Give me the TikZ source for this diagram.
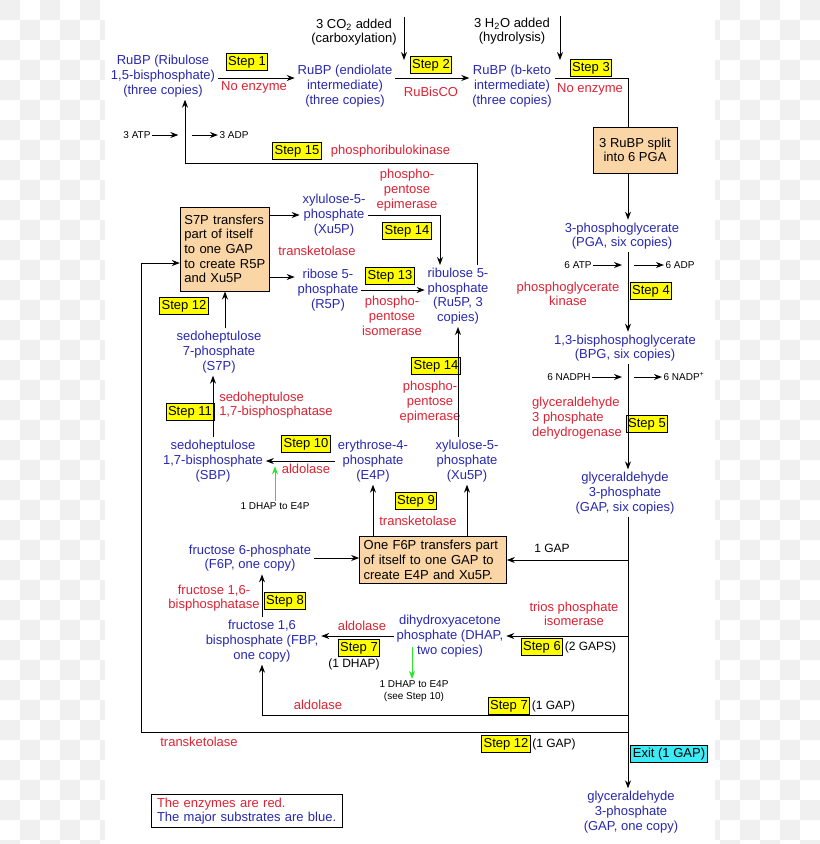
\documentclass[tikz,border=0pt]{standalone}
\usepackage{fontspec}
\setmainfont{Liberation Sans}
\usetikzlibrary{positioning,arrows.meta,calc}
\definecolor{cBlue}{RGB}{40,40,175}
\definecolor{cRed}{RGB}{221,34,51}
\definecolor{cStep}{RGB}{255,255,0}
\definecolor{cProc}{RGB}{250,213,165}
\definecolor{cExit}{RGB}{60,235,245}
\definecolor{cGreen}{RGB}{40,230,40}
\definecolor{cSq}{RGB}{240,240,240}
\newcommand{\mainsize}{\fontsize{9.75}{11}\selectfont}
\newcommand{\cofsize}{\fontsize{7.5}{9}\selectfont}
\tikzset{
  sub/.style={text=cBlue, align=center, font=\mainsize, inner sep=2pt},
  enz/.style={text=cRed, align=center, font=\mainsize, inner sep=2pt},
  lbl/.style={align=center, font=\mainsize, inner sep=1pt},
  cnt/.style={font=\fontsize{9}{11}\selectfont, inner sep=1pt},
  cofac/.style={align=center, font=\cofsize, inner sep=1pt},
  stepbox/.style={draw, fill=cStep, line width=0.6pt, font=\mainsize,
                  inner xsep=1.5pt, inner ysep=1.5pt, text height=7.2pt, text depth=2pt},
  proc/.style={draw, line width=0.75pt, fill=cProc, font=\mainsize, inner sep=3pt},
  exitbox/.style={draw, line width=0.75pt, fill=cExit, font=\mainsize,
                  inner xsep=1.5pt, inner ysep=1.5pt},
  legend/.style={draw, line width=0.75pt, align=left, font=\mainsize,
                 text width=135pt, inner xsep=4pt, inner ysep=2pt},
  flow/.style={-{Stealth[length=6pt,width=4.5pt]}, line width=0.75pt},
  gflow/.style={flow, draw=cGreen},
  wire/.style={line width=0.75pt},
}

\begin{document}
\begin{tikzpicture}[x=0.75pt,y=-0.75pt]
  \useasboundingbox (0,0) rectangle (820,844);
  \clip (0,0) rectangle (820,844);
  % backdrop
  \foreach \x in {0,40,...,800}
    \foreach \y in {0,40,...,840} {
      \fill[cSq] (\x,\y) rectangle ++(20,20);
      \fill[cSq] (\x+20,\y+20) rectangle ++(20,20);
    }
  \fill[white] (105,0) rectangle (715,844);

  % guide points
  \coordinate (mx) at (628,0);
  \coordinate (row1) at (0,78);
  \coordinate (kx) at (185,0);
  \coordinate (k2) at (404,60);
  \coordinate (k3) at (560,60);
  \coordinate (k14) at (440,0);
  \coordinate (k15) at (477,163);
  \coordinate (yr) at (0,277);
  \coordinate (j7) at (628,715);
  \coordinate (j12) at (628,732);
  \coordinate (k12) at (141,263);
  \coordinate (g2) at (412,647);

  % carbon fixation
  \node[sub] (rubp)   at (163,76) {RuBP (Ribulose\\1,5-bisphosphate)\\(three copies)};
  \node[sub] (endiol) at (345,86) {RuBP (endiolate\\intermediate)\\(three copies)};
  \node[sub] (bketo)  at (512,86) {RuBP (b-keto\\intermediate)\\(three copies)};
  \node[lbl] (co2) at (354,32) {3 CO\textsubscript{2} added\\(carboxylation)};
  \node[lbl] (h2o) at (512,31) {3 H\textsubscript{2}O added\\(hydrolysis)};
  \node[stepbox] (s1) at (247,62) {Step 1};
  \node[enz] (e1) at (254,87) {No enzyme};
  \node[stepbox] (s2) at (431,65) {Step 2};
  \node[enz] (e2) at (431,92) {RuBisCO};
  \node[stepbox] (s3) at (591,68) {Step 3};
  \node[enz] (e3) at (590,89) {No enzyme};
  \node[proc, align=center, minimum width=63pt, minimum height=34.5pt] (split)
        at (635,150) {3 RuBP split\\into 6 PGA};

  % reduction
  \node[sub] (pga) at (622,236) {3-phosphoglycerate\\(PGA, six copies)};
  \node[cofac] (atp6) at (578,265) {6 ATP};
  \node[cofac] (adp6) at (680,265) {6 ADP};
  \node[enz] (e4) at (568,294) {phosphoglycerate\\kinase};
  \node[stepbox] (s4) at (651,291) {Step 4};
  \node[sub] (bpg) at (625,348) {1,3-bisphosphoglycerate\\(BPG, six copies)};
  \node[cofac] (nadph) at (569,377) {6 NADPH};
  \node[cofac] (nadp) at (684,377) {6 NADP\textsuperscript{+}};
  \node[enz, align=left] (e5) at (577,418) {glyceraldehyde\\3 phosphate\\dehydrogenase};
  \node[stepbox] (s5) at (647,424) {Step 5};
  \node[sub] (gap) at (625,493) {glyceraldehyde\\3-phosphate\\(GAP, six copies)};
  \node[cnt] (gap1) at (552,548) {1 GAP};
  \node[enz] (e6) at (574,614) {trios phosphate\\isomerase};
  \node[stepbox] (s6) at (542,647) {Step 6};
  \node[cnt, right=0pt of s6] (n6) {(2 GAPS)};
  \node[stepbox] (s7b) at (509,706) {Step 7};
  \node[cnt, right=0pt of s7b] (n7b) {(1 GAP)};
  \node[stepbox] (s12b) at (506,744) {Step 12};
  \node[cnt, right=0pt of s12b] (n12b) {(1 GAP)};
  \node[exitbox] (exit) at (669,754) {Exit (1 GAP)};
  \node[sub] (gapout) at (631,812) {glyceraldehyde\\3-phosphate\\(GAP, one copy)};

  % regeneration
  \node[stepbox] (s15) at (297,151) {Step 15};
  \node[enz, anchor=west] (e15) at (328,151) {phosphoribulokinase};
  \node[cofac] (atp3) at (137,135) {3 ATP};
  \node[cofac] (adp3) at (234,135) {3 ADP};
  \node[proc, align=left, text width=61pt, minimum height=63pt] (s7pbox)
        at (225,249) {S7P transfers\\part of itself\\to one GAP\\to create R5P\\and Xu5P};
  \node[sub] (xu5pa) at (334,215) {xylulose-5-\\phosphate\\(Xu5P)};
  \node[enz] (etk) at (317,251) {transketolase};
  \node[sub] (r5p) at (328,290) {ribose 5-\\phosphate\\(R5P)};
  \node[enz] (e14a) at (407,190) {phospho-\\pentose\\epimerase};
  \node[stepbox] (s14a) at (407,231) {Step 14};
  \node[stepbox] (s13) at (390,276) {Step 13};
  \node[enz] (e13) at (392,316) {phospho-\\pentose\\isomerase};
  \node[sub] (ru5p) at (458,296) {ribulose 5-\\phosphate\\(Ru5P, 3\\copies)};
  \node[stepbox] (s12a) at (184,306) {Step 12};
  \node[sub] (s7p) at (219,352) {sedoheptulose\\7-phosphate\\(S7P)};
  \node[stepbox] (s11) at (190,412) {Step 11};
  \node[enz, align=left] (e11) at (276,405) {sedoheptulose\\1,7-bisphosphatase};
  \node[sub] (sbp) at (213,461) {sedoheptulose\\1,7-bisphosphate\\(SBP)};
  \node[stepbox] (s10) at (306,444) {Step 10};
  \node[enz] (e10) at (306,469) {aldolase};
  \node[cofac] (dhapa) at (275,506) {1 DHAP to E4P};
  \node[sub] (e4p) at (373,461) {erythrose-4-\\phosphate\\(E4P)};
  \node[sub] (xu5pb) at (467,461) {xylulose-5-\\phosphate\\(Xu5P)};
  \node[stepbox] (s14b) at (436,366) {Step 14};
  \node[enz] (e14b) at (430,402) {phospho-\\pentose\\epimerase};
  \node[stepbox] (s9) at (416,501) {Step 9};
  \node[enz] (e9) at (418,521) {transketolase};
  \node[proc, align=left, text width=104pt] (f6pbox) at (433,560)
        {One F6P transfers part\\of itself to one GAP to\\create E4P and Xu5P.};
  \node[sub] (f6p) at (250,558) {fructose 6-phosphate\\(F6P, one copy)};
  \node[enz] (e8) at (214,598) {fructose 1,6-\\bisphosphatase};
  \node[stepbox] (s8) at (285,601) {Step 8};
  \node[sub] (fbp) at (262,641) {fructose 1,6\\bisphosphate (FBP,\\one copy)};
  \node[enz] (e7a) at (362,626) {aldolase};
  \node[stepbox] (s7a) at (359,648) {Step 7};
  \node[cnt] (n7a) at (354,664) {(1 DHAP)};
  \node[sub] (dhap) at (450,636) {dihydroxyacetone\\phosphate (DHAP,\\two copies)};
  \node[cofac] (dhapb) at (414,691) {1 DHAP to E4P\\(see Step 10)};
  \node[enz] (e7b) at (318,705) {aldolase};
  \node[enz] (e12) at (199,742) {transketolase};
  \node[legend] (key) at (247,811)
        {\textcolor{cRed}{The enzymes are red.}\\\textcolor{cBlue}{The major substrates are blue.}};

  % top row
  \draw[flow] (rubp.east |- row1) -- (endiol.west |- row1);
  \draw[flow] (endiol.east |- row1) -- (bketo.west |- row1);
  \draw[flow] (k2 |- co2.north) -- (k2);
  \draw[flow] (k3 |- h2o.north) -- (k3);
  \draw[wire] (bketo.east |- row1) -| (split.north -| mx);

  % main column
  \draw[flow] (split.south -| mx) -- (pga.north -| mx);
  \draw[flow] (pga.south -| mx) -- (bpg.north -| mx);
  \draw[flow] (bpg.south -| mx) -- (gap.north -| mx);
  \draw[flow] (gap.south -| mx) -- (gapout.north -| mx);
  \draw[flow, shorten >=4.5pt] (atp6.east) -- (atp6.east -| mx);
  \draw[flow, shorten <=4.5pt] (adp6.west -| mx) -- (adp6.west);
  \draw[flow, shorten >=4.5pt] (nadph.east) -- (nadph.east -| mx);
  \draw[flow, shorten <=4.5pt] (nadp.west -| mx) -- (nadp.west);

  % GAP branches
  \draw[flow] (f6pbox.east -| mx) -- (f6pbox.east);
  \draw[flow] (dhap.east -| mx) -- (dhap.east);
  \draw[flow] (j7) -| (fbp.south);
  \draw[flow] (j12) -| (k12) -- (k12 -| s7pbox.west);

  % back to RuBP
  \draw[flow] (ru5p.north -| k15) -- (k15) -| (rubp.south -| kx);
  \draw[flow, shorten >=5pt] (atp3.east) -- (atp3.east -| kx);
  \draw[flow, shorten <=5pt] (adp3.west -| kx) -- (adp3.west);

  % pentose shuffle
  \draw[flow] (s7pbox.east |- xu5pa.west) -- (xu5pa.west);
  \draw[flow] (s7pbox.east |- yr) -- (r5p.west |- yr);
  \draw[flow] (xu5pa.east) -| (ru5p.north -| k14);
  \draw[flow] (r5p.east) -- (r5p.east -| ru5p.west);
  \draw[flow] (xu5pb.north -| ru5p.south) -- (ru5p.south);
  \draw[flow] (s7p.north -| s7pbox.south) -- (s7pbox.south);
  \draw[flow] (sbp.north) -- (sbp.north |- s7p.south);
  \draw[flow] (e4p.west) -- (e4p.west -| sbp.east);
  \draw[gflow, shorten >=4pt] (dhapa.north) -- (dhapa.north |- sbp.east);
  \draw[flow] (f6pbox.north -| e4p.south) -- (e4p.south);
  \draw[flow] (f6pbox.north -| xu5pb.south) -- (xu5pb.south);
  \draw[flow] (f6p.east) -- (f6p.east -| f6pbox.west);
  \draw[flow] (fbp.north) -- (fbp.north |- f6p.south);
  \draw[flow] (dhap.west) -- (dhap.west -| fbp.east);
  \draw[gflow] (g2) -- (g2 |- dhapb.north);
\end{tikzpicture}
\end{document}
